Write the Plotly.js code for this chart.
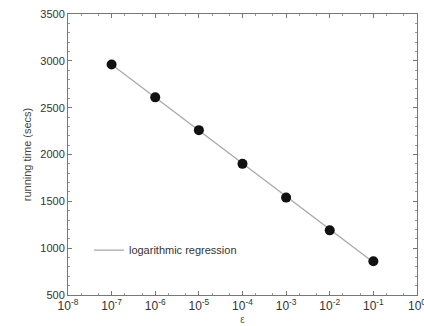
<!DOCTYPE html>
<html><head><meta charset="utf-8">
<script src="https://cdn.plot.ly/plotly-3.0.1.min.js"></script>
<style>html,body{margin:0;padding:0;background:#fff;}#chart{width:424px;height:326px;}</style>
</head><body><div id="chart"></div>
<script>
const epsilon = [1e-7, 1e-6, 1e-5, 1e-4, 1e-3, 1e-2, 1e-1];
const runningTime = [2960, 2610, 2260, 1900, 1540, 1190, 860];
const regressionX = [1e-7, 1e-1];
const regressionY = [2960, 850];
const legendLabel = 'logarithmic regression';
const xTickVals = [1e-8, 1e-7, 1e-6, 1e-5, 1e-4, 1e-3, 1e-2, 1e-1, 1];
const xTickText = ['10<sup>-8</sup>', '10<sup>-7</sup>', '10<sup>-6</sup>', '10<sup>-5</sup>',
  '10<sup>-4</sup>', '10<sup>-3</sup>', '10<sup>-2</sup>', '10<sup>-1</sup>', '10<sup>0</sup>'];

const traces = [
  {x: regressionX, y: regressionY, mode: 'lines', name: legendLabel,
   line: {color: '#a8a8a8', width: 1.3}, showlegend: true},
  {x: epsilon, y: runningTime, mode: 'markers', name: 'data',
   marker: {color: '#111', size: 10}, showlegend: false}
];
const font = {family: 'Liberation Sans, Arial, sans-serif', size: 11, color: '#333'};
const layout = {
  width: 424, height: 326,
  margin: {l: 68, r: 7, t: 14, b: 31},
  paper_bgcolor: '#fff', plot_bgcolor: '#fff',
  font: font,
  showlegend: true,
  legend: {x: 0.06, y: 0.16, xanchor: 'left', yanchor: 'middle', bgcolor: 'rgba(0,0,0,0)',
           font: {family: font.family, size: 11, color: '#333'}},
  xaxis: {type: 'log', range: [-8, 0.0005], tickmode: 'array', tickvals: xTickVals, ticktext: xTickText,
          ticklabeloverflow: 'allow',
          showline: true, linecolor: '#777', linewidth: 1, mirror: 'allticks',
          ticks: 'inside', ticklen: 4, tickcolor: '#777', showgrid: false, zeroline: false,
          minor: {ticks: 'inside', ticklen: 2, tickcolor: '#999', showgrid: false},
          tickfont: {size: 12, color: '#333'},
          title: {text: 'ε', font: {size: 10, color: '#555'}, standoff: 3}},
  yaxis: {range: [500, 3500], dtick: 500,
          showline: true, linecolor: '#777', linewidth: 1, mirror: 'allticks',
          ticks: 'inside', ticklen: 4, tickcolor: '#777', showgrid: false, zeroline: false,
          minor: {dtick: 100, ticks: 'inside', ticklen: 2, tickcolor: '#999', showgrid: false},
          tickfont: {size: 11, color: '#333'},
          title: {text: 'running time (secs)', font: {size: 11, color: '#444'}, standoff: 6}}
};
Plotly.newPlot('chart', traces, layout, {displayModeBar: false, staticPlot: true});
</script></body></html>
